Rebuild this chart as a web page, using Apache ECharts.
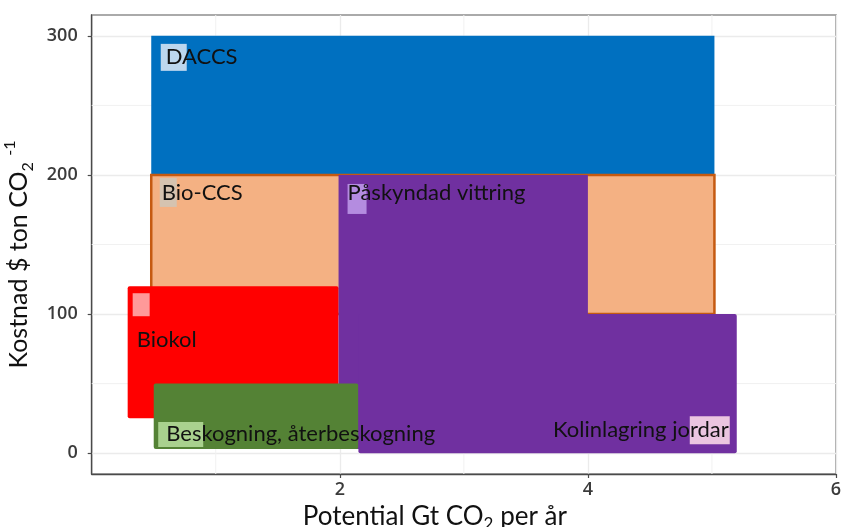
<!DOCTYPE html>
<html><head><meta charset="utf-8">
<script src="https://cdn.jsdelivr.net/npm/echarts@6/dist/echarts.min.js"></script>
<style>html,body{margin:0;padding:0;background:#fff}#c{width:843px;height:527px}</style>
</head><body><div id="c"></div>
<script>
// ---- data ----
const names = ['DACCS', 'Bio-CCS', 'Biokol', 'Påskyndad vittring', 'Beskogning, återbeskogning', 'Kolinlagring jordar'];
const xStart   = [0.48, 0.48, 0.29, 1.99, 0.5, 2.15];
const xEnd     = [5.02, 5.02, 1.99, 4.0, 2.15, 5.2];
const costLow  = [200, 100, 25, 3, 3, 0];
const costHigh = [300, 200, 120, 200, 50, 100];
const xTickLabels = [2, 4, 6];
const yTickLabels = [0, 100, 200, 300];
const xMinor = [1, 3, 5];
const yMinor = [50, 150, 250];

// ---- styles ----
const fills   = ['#0070C0', '#F4B183', '#FF0000', '#7030A0', '#548235', '#7030A0'];
const strokes = ['#0070C0', '#C55A11', '#FF0000', '#7030A0', '#548235', '#7030A0'];
const strokeW = [0, 2.5, 0, 0, 0, 0];
const radius  = [0, 0, 2, 0, 2, 2];
const labelStyle = [
  {corner: 'tl', dx: 14.5, dy: 21, align: 'left',  box: [9.5, 8, 26, 27],   boxColor: '#BDD7EE'},
  {corner: 'tl', dx: 10.5, dy: 18, align: 'left',  box: [8.5, 3, 17, 29],   boxColor: '#D5C3B0'},
  {corner: 'tl', dx: 9,    dy: 54, align: 'left',  box: [5, 7, 17, 23],     boxColor: '#FF9999'},
  {corner: 'tl', dx: 9,    dy: 18, align: 'left',  box: [9, 9, 19, 30],     boxColor: '#B48CE0'},
  {corner: 'bl', dx: 12.5, dy: -15, align: 'left', box: [4.5, -27, 45, 25], boxColor: '#A9D18E'},
  {corner: 'br', dx: -8,   dy: -23, align: 'right', box: [-47, -37, 40, 28], boxColor: '#EBC5E0'}
];
const FONT = 'Lato';

const rectData = names.map((n, i) => [xStart[i], xEnd[i], costLow[i], costHigh[i]]);
const minorData = xMinor.map(v => [0, v]).concat(yMinor.map(v => [1, v]));

const chart = echarts.init(document.getElementById('c'), null, {renderer: 'canvas'});
chart.setOption({
  animation: false,
  backgroundColor: '#fff',
  grid: {left: 91.7, right: 7, top: 15, bottom: 53, show: true, borderColor: '#8f8f8f', borderWidth: 1.5,
         backgroundColor: 'transparent', containLabel: false, outerBoundsMode: 'none'},
  xAxis: {
    type: 'value', min: 0, max: 6,
    axisLine: {show: true, onZero: false, lineStyle: {color: '#4a4a4a', width: 1.3}},
    axisTick: {show: true, customValues: xTickLabels, length: 4, lineStyle: {color: '#4a4a4a', width: 1.2}},
    axisLabel: {customValues: xTickLabels, fontSize: 18, fontWeight: 600, color: '#3b3b3b', fontFamily: 'Open Sans', margin: 7},
    splitLine: {show: true, lineStyle: {color: '#EBEBEB', width: 1.3}},
    name: '{a|Potential Gt CO}{s|2}{a| per år}',
    nameLocation: 'middle', nameGap: 22,
    nameTextStyle: {
      padding: [0, 58, 0, 0],
      rich: {
        a: {fontSize: 26, fontFamily: FONT, color: '#111', lineHeight: 32},
        s: {fontSize: 17, fontFamily: FONT, color: '#111', lineHeight: 16, verticalAlign: 'bottom'}
      }
    }
  },
  yAxis: {
    type: 'value', min: -15, max: 315,
    axisLine: {show: true, onZero: false, lineStyle: {color: '#4a4a4a', width: 1.3}},
    axisTick: {show: true, customValues: yTickLabels, length: 4, lineStyle: {color: '#4a4a4a', width: 1.2}},
    axisLabel: {customValues: yTickLabels, fontSize: 18, fontWeight: 600, color: '#3b3b3b', fontFamily: 'Open Sans', margin: 14},
    splitLine: {show: true, lineStyle: {color: '#EBEBEB', width: 1.3}},
    name: '{a|Kostnad $ ton CO}{s|2}{a| }{p|-1}',
    nameLocation: 'middle', nameGap: 52, nameRotate: 90,
    nameTextStyle: {
      padding: [0, 20, 0, 0],
      rich: {
        a: {fontSize: 25, fontFamily: FONT, color: '#111', lineHeight: 34},
        s: {fontSize: 16, fontFamily: FONT, color: '#111', lineHeight: 16, verticalAlign: 'bottom'},
        p: {fontSize: 16, fontFamily: FONT, color: '#111', lineHeight: 16, verticalAlign: 'top'}
      }
    }
  },
  series: [
    {
      // minor grid lines
      type: 'custom', z: 1, silent: true,
      data: minorData,
      renderItem: function (params, api) {
        const dim = api.value(0), v = api.value(1);
        const cs = params.coordSys;
        let p0, p1;
        if (dim === 0) { const x = api.coord([v, 0])[0]; p0 = [x, cs.y]; p1 = [x, cs.y + cs.height]; }
        else { const y = api.coord([0, v])[1]; p0 = [cs.x, y]; p1 = [cs.x + cs.width, y]; }
        return {type: 'line', shape: {x1: p0[0], y1: p0[1], x2: p1[0], y2: p1[1]}, style: {stroke: '#F1F1F1', lineWidth: 1}};
      }
    },
    {
      type: 'custom', z: 2, silent: true,
      data: rectData,
      renderItem: function (params, api) {
        const i = params.dataIndex;
        const tl = api.coord([api.value(0), api.value(3)]);
        const br = api.coord([api.value(1), api.value(2)]);
        return {
          type: 'rect',
          shape: {x: tl[0], y: tl[1], width: br[0] - tl[0], height: br[1] - tl[1], r: radius[i]},
          style: {fill: fills[i], stroke: strokeW[i] ? strokes[i] : null, lineWidth: strokeW[i]}
        };
      }
    },
    {
      type: 'custom', z: 3, silent: true,
      data: rectData,
      renderItem: function (params, api) {
        const i = params.dataIndex;
        const tl = api.coord([api.value(0), api.value(3)]);
        const br = api.coord([api.value(1), api.value(2)]);
        const L = labelStyle[i];
        const ax = L.corner === 'br' ? br[0] : tl[0];
        const ay = L.corner === 'tl' ? tl[1] : br[1];
        return {
          type: 'group',
          children: [
            {type: 'rect', shape: {x: ax + L.box[0], y: ay + L.box[1], width: L.box[2], height: L.box[3]}, style: {fill: L.boxColor}},
            {type: 'text', x: ax + L.dx, y: ay + L.dy,
             style: {text: names[i], fill: '#111', fontSize: 22, fontFamily: FONT, align: L.align, verticalAlign: 'middle'}}
          ]
        };
      }
    }
  ]
});
</script>
</body></html>
